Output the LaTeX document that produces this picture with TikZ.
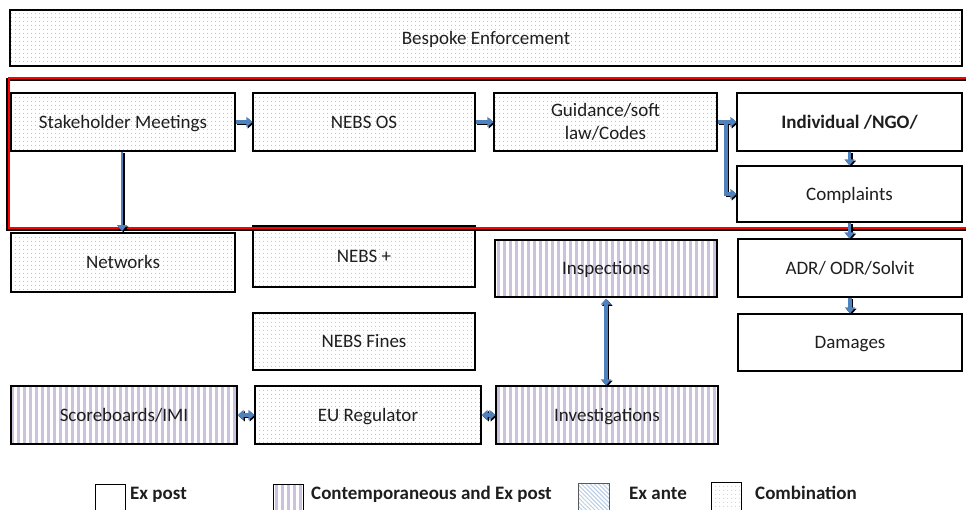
\documentclass[tikz,border=0pt]{standalone}
\usepackage{fontspec}
\setmainfont{Carlito}
\usetikzlibrary{patterns.meta,arrows.meta}
\definecolor{arrblue}{RGB}{79,129,189}
\definecolor{lav}{RGB}{204,194,222}
\definecolor{lblue}{RGB}{185,205,229}
\definecolor{txt}{RGB}{30,30,30}
\newcommand\myarrowset[1]{%
  \draw[barrow=#1] (stake.east) -- (nebsos.west);
  \draw[barrow=#1] (nebsos.east) -- (guid.west);
  \draw[barrow=#1] (guid.east) -- (indiv.west);
  \draw[barrow=#1] (gb) |- (compl.west);
  \draw[barrow=#1] (indiv.south) -- (compl.north);
  \draw[barrow=#1] (compl.south) -- (compl.south |- adr.north);
  \draw[barrow=#1] (adr.south) -- (dam.north);
  \draw[barrow=#1, line width=2.5pt] (sk) -- (sk |- 0,231);
  \draw[darrow=#1] (insp.south) -- (insp.south |- invest.north);
  \draw[darrow=#1] (score.east) -- (eureg.west);
  \draw[darrow=#1] (eureg.east) -- (invest.west);
}
\begin{document}
\begin{tikzpicture}[x=1pt,y=-1pt,
  box/.style={draw=black, line width=1.2pt, font=\fontsize{19}{23}\selectfont, text=txt, align=center, inner sep=0pt},
  one/.style={text height=16pt, text depth=4pt},
  comb/.style={box, preaction={fill=white}, pattern={Dots[distance=4pt,radius=0.6pt]}, pattern color=gray!55},
  stripe/.style={box, preaction={fill=white}, pattern={Lines[angle=90,distance=6pt,line width=3pt]}, pattern color=lav},
  expost/.style={box, fill=white},
  exante/.style={box, preaction={fill=white}, pattern={Lines[angle=-45,distance=3pt,line width=1pt]}, pattern color=lblue},
  legbox/.style={line width=0.8pt},
  legtxt/.style={font=\bfseries\fontsize{19}{21}\selectfont, text=txt, inner sep=0pt, anchor=west, text height=14pt, text depth=4pt},
  barrow/.style={line width=3.5pt, draw=#1, -{Triangle[length=6pt,width=10pt]}},
  darrow/.style={line width=3.5pt, draw=#1, {Triangle[length=6pt,width=10pt]}-{Triangle[length=6pt,width=10pt]}}
]
\useasboundingbox (0,0) rectangle (966,509);

% boxes
\node[comb, one, minimum width=952, minimum height=56] (besp) at (486,38) {Bespoke Enforcement};
\node[comb, one, minimum width=224, minimum height=58] (stake) at (123,122) {Stakeholder Meetings};
\node[comb, one, minimum width=222, minimum height=58] (nebsos) at (364,122) {NEBS OS};
\node[comb, minimum width=223, minimum height=58] (guid) at (605.5,122) {Guidance/soft\\law/Codes};
\node[expost, one, minimum width=225, minimum height=58, font=\bfseries\fontsize{19}{21}\selectfont] (indiv) at (849.5,122) {Individual /NGO/};
\node[expost, one, minimum width=225, minimum height=56] (compl) at (849.5,194) {Complaints};
\node[comb, one, minimum width=224, minimum height=59] (netw) at (123,262.5) {Networks};
\node[comb, one, minimum width=222, minimum height=61] (nebsp) at (364,256.5) {NEBS +};
\node[stripe, one, minimum width=222, minimum height=57] (insp) at (606,268.5) {Inspections};
\node[expost, one, minimum width=224, minimum height=58] (adr) at (850,268) {ADR/ ODR/Solvit};
\node[comb, one, minimum width=222, minimum height=57] (fines) at (364,341.5) {NEBS Fines};
\node[expost, one, minimum width=224, minimum height=57] (dam) at (850,342.5) {Damages};
\node[stripe, one, minimum width=226, minimum height=58] (score) at (124,415) {Scoreboards/IMI};
\node[comb, one, minimum width=226, minimum height=58] (eureg) at (368,415) {EU Regulator};
\node[stripe, one, minimum width=222, minimum height=58] (invest) at (607,415) {Investigations};

% red frame with shadow
\draw[black, line width=3pt, transform canvas={shift={(-1.5pt,-1.5pt)}}] (9,78) rectangle (985,228);
\draw[red, line width=1.5pt] (9,78) rectangle (985,228);

% arrows (black shadow, then blue)
\coordinate (gb) at (726,121);
\coordinate (sk) at ([xshift=-1pt]stake.south);
\begin{scope}[transform canvas={shift={(1.3pt,-1.3pt)}}]
  \myarrowset{black}
\end{scope}
\myarrowset{arrblue}

% legend
\node[expost, legbox, minimum width=30, minimum height=32] (lg1) at (110,500) {};
\node[legtxt] (lt1) at (130,494) {Ex post};
\node[stripe, legbox, minimum width=30, minimum height=32] (lg2) at (288,500) {};
\node[legtxt] (lt2) at (311,494) {Contemporaneous and Ex post};
\node[exante, legbox, minimum width=31, minimum height=32, draw=gray!70!black] (lg3) at (593.5,499) {};
\node[legtxt] (lt3) at (629,494) {Ex ante};
\node[comb, legbox, minimum width=30, minimum height=32] (lg4) at (726,498) {};
\node[legtxt] (lt4) at (755,494) {Combination};
\end{tikzpicture}
\end{document}
